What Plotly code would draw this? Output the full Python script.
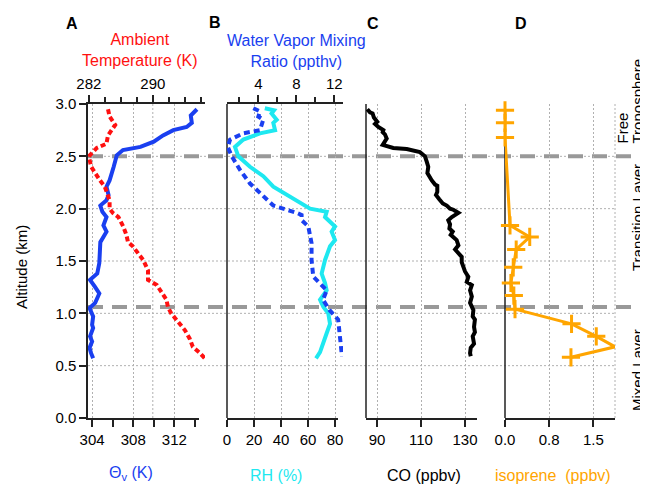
import plotly.graph_objects as go

# ---------------- data ----------------
# Panel A: virtual potential temperature (bottom axis) and ambient temperature (top axis)
alt_theta = [2.95, 2.89, 2.82, 2.78, 2.75, 2.70, 2.64, 2.59, 2.56, 2.51,
             2.40, 2.27, 2.21, 2.13, 2.08, 2.03, 1.97, 1.92, 1.84, 1.78,
             1.68, 1.48, 1.38, 1.32, 1.25, 1.19, 1.10, 1.05, 0.97, 0.89,
             0.86, 0.78, 0.73, 0.67, 0.62, 0.57]
theta_v = [314.2, 313.6, 313.7, 313.2, 311.9, 310.9, 310.0, 308.7, 307.0, 306.4,
           306.1, 305.7, 305.4, 305.6, 305.4, 304.8, 305.0, 305.4, 305.1, 305.4,
           304.8, 304.7, 304.5, 303.8, 304.3, 304.7, 304.3, 303.75, 304.1, 304.0,
           304.1, 303.8, 304.0, 303.75, 303.9, 304.1]

alt_temp = [2.95, 2.88, 2.80, 2.70, 2.62, 2.58, 2.50, 2.40, 2.27, 2.21,
            2.08, 2.00, 1.96, 1.92, 1.83, 1.75, 1.68, 1.64, 1.51, 1.41,
            1.32, 1.27, 1.13, 1.06, 1.00, 0.92, 0.84, 0.76, 0.68, 0.62, 0.57]
temp = [284.4, 284.6, 285.3, 284.4, 284.2, 283.0, 282.0, 282.3, 283.4, 284.0,
        284.6, 284.6, 285.0, 285.7, 286.3, 286.7, 286.9, 287.5, 288.8, 289.4,
        289.4, 290.5, 291.7, 291.9, 292.3, 293.2, 294.0, 294.6, 295.0, 295.9, 296.5]

# Panel B: relative humidity (bottom) and water vapour mixing ratio (top)
alt_rh = [2.96, 2.94, 2.91, 2.85, 2.82, 2.75, 2.72, 2.66, 2.59, 2.50,
          2.40, 2.31, 2.21, 2.13, 2.05, 2.00, 1.97, 1.92, 1.83, 1.78,
          1.70, 1.64, 1.51, 1.38, 1.29, 1.22, 1.13, 1.06, 1.00, 0.90,
          0.81, 0.71, 0.63, 0.57]
rh = [28.0, 34.8, 33.0, 36.8, 34.3, 35.6, 24.4, 12.1, 5.9, 8.4,
      17.0, 26.9, 34.3, 44.2, 54.1, 61.5, 73.8, 72.6, 80.0, 77.5,
      80.0, 76.3, 72.6, 70.1, 72.6, 73.8, 68.9, 71.4, 75.0, 76.3,
      73.8, 71.4, 68.9, 65.9]

alt_mr = [2.96, 2.93, 2.88, 2.85, 2.75, 2.72, 2.66, 2.59, 2.50, 2.37,
          2.24, 2.15, 2.03, 1.96, 1.94, 1.89, 1.83, 1.67, 1.51, 1.35,
          1.29, 1.22, 1.13, 1.03, 0.94, 0.81, 0.68, 0.59]
mr = [3.47, 4.17, 4.0, 4.52, 4.17, 2.42, 1.02, 0.78, 1.2, 2.07,
      3.12, 4.17, 5.57, 8.03, 8.55, 8.55, 9.26, 9.6, 9.6, 9.78,
      10.5, 11.2, 10.8, 11.5, 12.4, 12.6, 12.7, 12.8]

# Panel C: CO
alt_co = [2.95, 2.92, 2.91, 2.87, 2.83, 2.81, 2.78, 2.75, 2.73, 2.71,
          2.67, 2.64, 2.61, 2.58, 2.57, 2.54, 2.50, 2.45, 2.40, 2.34,
          2.29, 2.27, 2.23, 2.22, 2.16, 2.13, 2.09, 2.05, 2.03, 2.00,
          1.99, 1.96, 1.92, 1.89, 1.85, 1.81, 1.78, 1.75, 1.70, 1.65,
          1.61, 1.57, 1.54, 1.49, 1.44, 1.40, 1.35, 1.30, 1.27, 1.22,
          1.16, 1.10, 1.03, 0.97, 0.94, 0.87, 0.82, 0.78, 0.71, 0.67,
          0.62, 0.59]
co = [85.6, 86.8, 88.0, 88.6, 90.1, 89.1, 90.6, 92.9, 92.6, 93.6,
      94.4, 93.6, 92.6, 97.4, 103.5, 109.5, 111.8, 112.6, 113.3, 112.9,
      114.1, 114.9, 116.4, 117.4, 117.4, 116.8, 118.3, 119.9, 121.7, 123.2,
      124.7, 127.0, 124.0, 122.4, 123.2, 122.9, 124.4, 123.5, 126.2, 127.0,
      125.5, 127.0, 128.5, 128.5, 129.2, 130.0, 131.5, 130.8, 133.1, 132.3,
      133.1, 132.3, 133.8, 133.5, 134.5, 134.1, 134.5, 133.5, 134.1, 132.6,
      132.3, 132.6]

# Panel D: isoprene
alt_iso = [2.94, 2.82, 2.68, 1.84, 1.73, 1.61, 1.44, 1.29, 1.17, 1.04,
           0.90, 0.78, 0.68, 0.58]
iso = [0.0, 0.0, 0.0, 0.085, 0.42, 0.19, 0.14, 0.10, 0.15, 0.17,
       1.13, 1.55, 1.87, 1.12]

# layer boundaries (km)
boundaries = [2.5, 1.06]
grid_alts = [0.5, 1.0, 1.5, 2.0, 2.5]
alt_ticks = [0.0, 0.5, 1.0, 1.5, 2.0, 2.5, 3.0]
iso_ticks = [0.0, 0.75, 1.5]
iso_ticktext = ["0.0", "0.8", "1.5"]

# ---------------- style ----------------
W, H = 648, 485
OFF = 8  # page body margin of the browser
def px(x):
    return (x - OFF) / W
def py(y):
    return 1 - (y - OFF) / H

FONT = "Liberation Sans, Arial, sans-serif"
BLUE = "#1a3ff0"
RED = "#ff1010"
CYAN = "#1ee8f0"
ORANGE = "#ffa500"
AX = "#222222"
GRID = "#b0b0b0"

fig = go.Figure()
fig.add_trace(go.Scatter(x=theta_v, y=alt_theta, xaxis="x", yaxis="y", mode="lines",
                         line=dict(color=BLUE, width=4)))
fig.add_trace(go.Scatter(x=temp, y=alt_temp, xaxis="x2", yaxis="y", mode="lines",
                         line=dict(color=RED, width=4, dash="5px,3px")))
fig.add_trace(go.Scatter(x=rh, y=alt_rh, xaxis="x3", yaxis="y", mode="lines",
                         line=dict(color=CYAN, width=4)))
fig.add_trace(go.Scatter(x=mr, y=alt_mr, xaxis="x4", yaxis="y", mode="lines",
                         line=dict(color=BLUE, width=4, dash="6px,4px")))
fig.add_trace(go.Scatter(x=co, y=alt_co, xaxis="x5", yaxis="y", mode="lines",
                         line=dict(color="black", width=4)))
fig.add_trace(go.Scatter(x=iso, y=alt_iso, xaxis="x6", yaxis="y", mode="lines+markers",
                         cliponaxis=False,
                         line=dict(color=ORANGE, width=3),
                         marker=dict(symbol="cross-thin", size=13,
                                     line=dict(color=ORANGE, width=3))))

def xax(**kw):
    d = dict(showline=True, linecolor=AX, linewidth=1.5, ticks="outside",
             tickcolor=AX, tickwidth=1.5, ticklen=7, zeroline=False,
             tickfont=dict(size=15, color="black", family=FONT),
             showgrid=False, fixedrange=True, automargin=False)
    d.update(kw)
    return d

ydom = [py(418), py(104)]
fig.update_layout(
    template="none",
    width=W, height=H, margin=dict(l=0, r=0, t=0, b=0, pad=0, autoexpand=False),
    paper_bgcolor="white", plot_bgcolor="rgba(0,0,0,0)",
    showlegend=False,
    font=dict(family=FONT, size=15, color="black"),
    yaxis=dict(domain=ydom, range=[0, 3], tickvals=alt_ticks, tickformat=".1f",
               anchor="x", showline=True, linecolor=AX, linewidth=1.5,
               ticks="outside", tickcolor=AX, tickwidth=1.5, ticklen=7,
               zeroline=False, showgrid=False, fixedrange=True, automargin=False,
               tickfont=dict(size=15, color="black")),
    xaxis=xax(domain=[px(88), px(199)], anchor="y", range=[303.6, 314.4],
              tick0=304, dtick=4, showgrid=True, gridcolor=GRID,
              griddash="2px,2px", gridwidth=1,
              minor=dict(dtick=2, tick0=304, ticks="outside", ticklen=7,
                         tickcolor=AX, tickwidth=1.5, showgrid=False)),
    xaxis2=xax(domain=[px(88), px(205)], anchor="y", side="top",
               range=[281.9, 281.9 + 117 / 8], tick0=282, dtick=8,
               minor=dict(dtick=2, tick0=282, ticks="outside", ticklen=5,
                          tickcolor=AX, tickwidth=1.5, showgrid=False)),
    xaxis3=xax(domain=[px(227), px(338)], anchor="y", range=[0, 82.2],
               tick0=0, dtick=20, showgrid=True, gridcolor=GRID,
               griddash="2px,2px", gridwidth=1),
    xaxis4=xax(domain=[px(227), px(343)], anchor="y", side="top",
               range=[0.7, 12.91], tick0=0, dtick=4,
               minor=dict(dtick=2, tick0=0, ticks="outside", ticklen=5,
                          tickcolor=AX, tickwidth=1.5, showgrid=False)),
    xaxis5=xax(domain=[px(366), px(477)], anchor="y", range=[85, 135.45],
               tick0=90, dtick=20, showgrid=True, gridcolor=GRID,
               griddash="2px,2px", gridwidth=1),
    xaxis6=xax(domain=[px(505), px(615)], anchor="y", range=[0, 1.868],
               tickvals=iso_ticks, ticktext=iso_ticktext, showgrid=True,
               gridcolor=GRID, griddash="2px,2px", gridwidth=1),
)

shapes = []
# horizontal dotted grid spanning all panels
for a in grid_alts:
    shapes.append(dict(type="line", xref="paper", yref="y", x0=px(88), x1=px(615),
                       y0=a, y1=a, layer="below",
                       line=dict(color=GRID, width=1, dash="2px,2px")))
# extra vertical dotted lines (top temperature grid at 290 K, right frame of D)
for xv in [152.8, 615]:
    shapes.append(dict(type="line", xref="paper", yref="y", x0=px(xv), x1=px(xv),
                       y0=0, y1=3, layer="below",
                       line=dict(color=GRID, width=1, dash="2px,2px")))
# layer boundary dashed lines
for b in boundaries:
    shapes.append(dict(type="line", xref="paper", yref="y", x0=px(88), x1=px(648),
                       y0=b, y1=b, layer="below",
                       line=dict(color="#999999", width=4, dash="15px,9px")))
# left axis lines for panels B, C, D
for xl in [227, 366, 505]:
    shapes.append(dict(type="line", xref="paper", yref="y", x0=px(xl), x1=px(xl),
                       y0=0, y1=3, layer="below",
                       line=dict(color=AX, width=1.5)))
fig.update_layout(shapes=shapes)

ann = []
def add(text, x, y, size=16, color="black", angle=0, xanchor="center", yanchor="middle", align="center"):
    ann.append(dict(text=text, x=px(x), y=py(y), xref="paper", yref="paper",
                    showarrow=False, textangle=angle, xanchor=xanchor,
                    yanchor=yanchor, align=align,
                    font=dict(size=size, color=color, family=FONT)))

add("<b>A</b>", 72, 23, size=16)
add("<b>B</b>", 215, 22, size=16)
add("<b>C</b>", 373, 24, size=16)
add("<b>D</b>", 521, 24, size=16)
add("Ambient<br>Temperature (K)", 140, 50, color=RED)
add("Water Vapor Mixing<br>Ratio (ppthv)", 296, 51, color=BLUE)
add("Θ<sub>v</sub> (K)", 131, 473, color=BLUE)
add("RH (%)", 276, 475, color=CYAN)
add("CO (ppbv)", 424, 475)
add("isoprene\u00a0 (ppbv)", 553, 475, color=ORANGE)
add("Altitude (km)", 21, 267, size=15, angle=-90)
add("Free", 622, 146, size=15, angle=-90, yanchor="bottom")
add("Troposphere", 637, 146, size=15, angle=-90, yanchor="bottom")
add("Transition Layer", 637, 218, size=15, angle=-90)
add("Mixed Layer", 637, 370, size=15, angle=-90)
fig.update_layout(annotations=ann)

fig.write_html("out.html")
